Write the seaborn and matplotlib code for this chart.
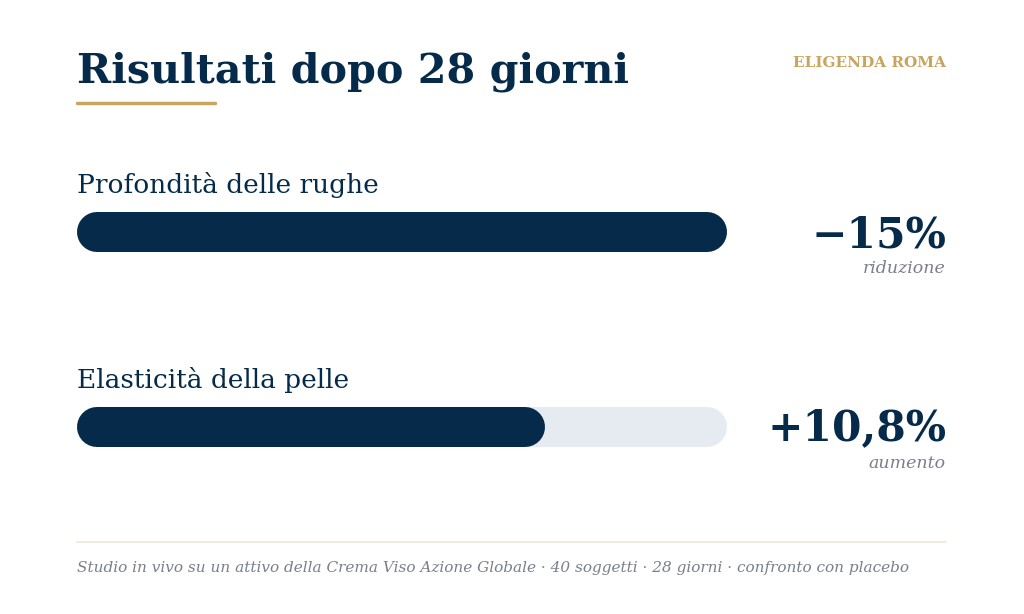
import matplotlib
matplotlib.use("Agg")
import matplotlib.pyplot as plt
import numpy as np
import pandas as pd
import seaborn as sns

# data
metrics = ["Profondità delle rughe", "Elasticità della pelle"]
values = [15.0, 10.8]
value_labels = ["\u221215%", "+10,8%"]
sub_labels = ["riduzione", "aumento"]
scale_max = 15.0

title = "Risultati dopo 28 giorni"
brand = "ELIGENDA ROMA"
footer = ("Studio in vivo su un attivo della Crema Viso Azione Globale \u00b7 40 soggetti "
          "\u00b7 28 giorni \u00b7 confronto con placebo")

NAVY = "#052a4a"
GOLD = "#c9a45c"
TRACK = "#e6ebf2"
GREY = "#7b7f8c"
RULE = "#efe8d8"

sns.set_theme(style="white")
plt.rcParams["font.family"] = ["DejaVu Serif"]

W, H = 1024, 614
fig = plt.figure(figsize=(W / 100, H / 100), dpi=100)
fig.patch.set_facecolor("white")


def fx(x):
    return x / W


def fy(y):
    return 1 - y / H


# bar axes: x 77..727 px, rows centred at 232 and 427 px
row_gap = 195
top = 232 - row_gap / 2
ax = fig.add_axes([fx(77), fy(top + 2 * row_gap), 650 / W, 2 * row_gap / H])
ax.set_xlim(0, scale_max)
ax.set_ylim(1.5, -0.5)
ax.axis("off")

df = pd.DataFrame({"metric": metrics, "value": values, "pos": [0, 1]})

bar_px = 40
lw = bar_px * 72 / 100
cap = (bar_px / 2) / 650 * scale_max  # half bar height in x data units

for _, r in df.iterrows():
    sns.lineplot(x=[cap, scale_max - cap], y=[r.pos, r.pos], ax=ax, color=TRACK,
                 linewidth=lw, solid_capstyle="round", sort=False)
    sns.lineplot(x=[cap, max(r.value - cap, cap)], y=[r.pos, r.pos], ax=ax, color=NAVY,
                 linewidth=lw, solid_capstyle="round", sort=False)

# header
fig.text(fx(77), fy(83), title, fontsize=29.7, fontweight="bold", color=NAVY, va="baseline")
fig.add_artist(plt.Line2D([fx(77), fx(215)], [fy(103), fy(103)], color=GOLD, lw=2.5))
fig.text(fx(946), fy(67), brand, fontsize=11, fontweight="bold", color=GOLD,
         ha="right", va="baseline")

for i, r in df.iterrows():
    base = i * row_gap
    fig.text(fx(77), fy(193 + base), r.metric, fontsize=19, color=NAVY, va="baseline")
    fig.text(fx(946), fy(247 + base - 2 * i), value_labels[i], fontsize=30.5, fontweight="bold",
             color=NAVY, ha="right", va="baseline")
    fig.text(fx(946), fy(273 + base), sub_labels[i], fontsize=12.5, style="italic",
             color=GREY, ha="right", va="baseline")

fig.add_artist(plt.Line2D([fx(77), fx(946)], [fy(542), fy(542)], color=RULE, lw=1.2))
fig.text(fx(77), fy(572), footer, fontsize=11, style="italic", color=GREY, va="baseline")

fig.savefig("out.png", dpi=100, facecolor="white")
